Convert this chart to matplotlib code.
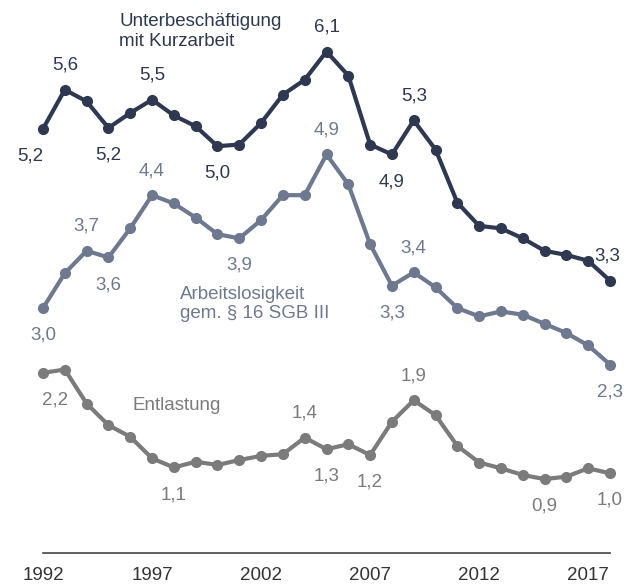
import numpy as np
import matplotlib.pyplot as plt

plt.rcParams['font.family'] = ['Liberation Sans', 'DejaVu Sans']

years = np.arange(1992, 2019)

unterbeschaeftigung = [5.17, 5.64, 5.50, 5.18, 5.36, 5.52, 5.33, 5.20, 4.96, 4.98,
                       5.24, 5.58, 5.76, 6.10, 5.81, 4.98, 4.86, 5.27, 4.92, 4.28,
                       4.00, 3.97, 3.85, 3.70, 3.65, 3.58, 3.34]
arbeitslosigkeit = [3.01, 3.43, 3.70, 3.62, 3.97, 4.37, 4.27, 4.10, 3.90, 3.85,
                    4.07, 4.37, 4.37, 4.86, 4.50, 3.78, 3.28, 3.44, 3.26, 3.01,
                    2.91, 2.97, 2.93, 2.82, 2.71, 2.56, 2.33]
entlastung = [2.23, 2.27, 1.86, 1.60, 1.46, 1.20, 1.09, 1.16, 1.12, 1.18,
              1.23, 1.25, 1.45, 1.31, 1.37, 1.24, 1.64, 1.90, 1.72, 1.35,
              1.15, 1.08, 1.00, 0.95, 0.98, 1.08, 1.02]

# (year, text, position relative to the point, horizontal shift in pt)
labels_unter = [(1992, '5,2', 'below', -9), (1993, '5,6', 'above', 0),
                (1995, '5,2', 'below', 0), (1997, '5,5', 'above', 0),
                (2000, '5,0', 'below', 0), (2005, '6,1', 'above', 0),
                (2008, '4,9', 'below', 0), (2009, '5,3', 'above', 0),
                (2018, '3,3', 'above', -2)]
labels_arbeit = [(1992, '3,0', 'below', 0), (1994, '3,7', 'above', 0),
                 (1995, '3,6', 'below', 0), (1997, '4,4', 'above', 0),
                 (2001, '3,9', 'below', 0), (2005, '4,9', 'above', 0),
                 (2008, '3,3', 'below', 0), (2009, '3,4', 'above', 0),
                 (2018, '2,3', 'below', 0)]
labels_entl = [(1992, '2,2', 'below', 9), (1998, '1,1', 'below', 0),
               (2004, '1,4', 'above', 0), (2005, '1,3', 'below', 0),
               (2007, '1,2', 'below', 0), (2009, '1,9', 'above', 0),
               (2015, '0,9', 'below', 0), (2018, '1,0', 'below', 0)]

navy = '#2e3850'
slate = '#6e7990'
grey = '#7b7b7b'

fig = plt.figure(figsize=(6.38, 5.86), dpi=100)
ax = fig.add_axes([43 / 638, 33 / 586, 567 / 638, 533 / 586])

series = [(unterbeschaeftigung, navy, labels_unter),
          (arbeitslosigkeit, slate, labels_arbeit),
          (entlastung, grey, labels_entl)]

for values, color, labels in series:
    ax.plot(years, values, '-o', color=color, lw=3, ms=7, clip_on=False,
            solid_joinstyle='round')
    for yr, txt, pos, dx in labels:
        v = values[yr - 1992]
        dy = 17.5 if pos == 'above' else -19.5
        ax.annotate(txt, (yr, v), xytext=(dx, dy), textcoords='offset points',
                    ha='center', va='center', color=color, fontsize=13.5)

# series names placed next to their lines
ax.text(1995.5, 6.56, 'Unterbeschäftigung\nmit Kurzarbeit', color=navy,
        fontsize=13.5, va='top', ha='left', linespacing=1.2)
ax.text(1998.3, 3.28, 'Arbeitslosigkeit\ngem. § 16 SGB III', color=slate,
        fontsize=13.5, va='top', ha='left', linespacing=1.2)
ax.text(1996.1, 1.84, 'Entlastung', color=grey, fontsize=13.5,
        va='center', ha='left')

ax.set_xlim(1992, 2018)
ax.set_ylim(0.06, 6.48)
ax.set_xticks(np.arange(1992, 2018, 5))
ax.tick_params(axis='x', length=0, pad=10, labelsize=13.5, labelcolor='#333333')
ax.set_yticks([])
for side in ['top', 'left', 'right']:
    ax.spines[side].set_visible(False)
ax.spines['bottom'].set_color('#444444')
ax.spines['bottom'].set_linewidth(1.2)

fig.savefig('out.png', dpi=100)
